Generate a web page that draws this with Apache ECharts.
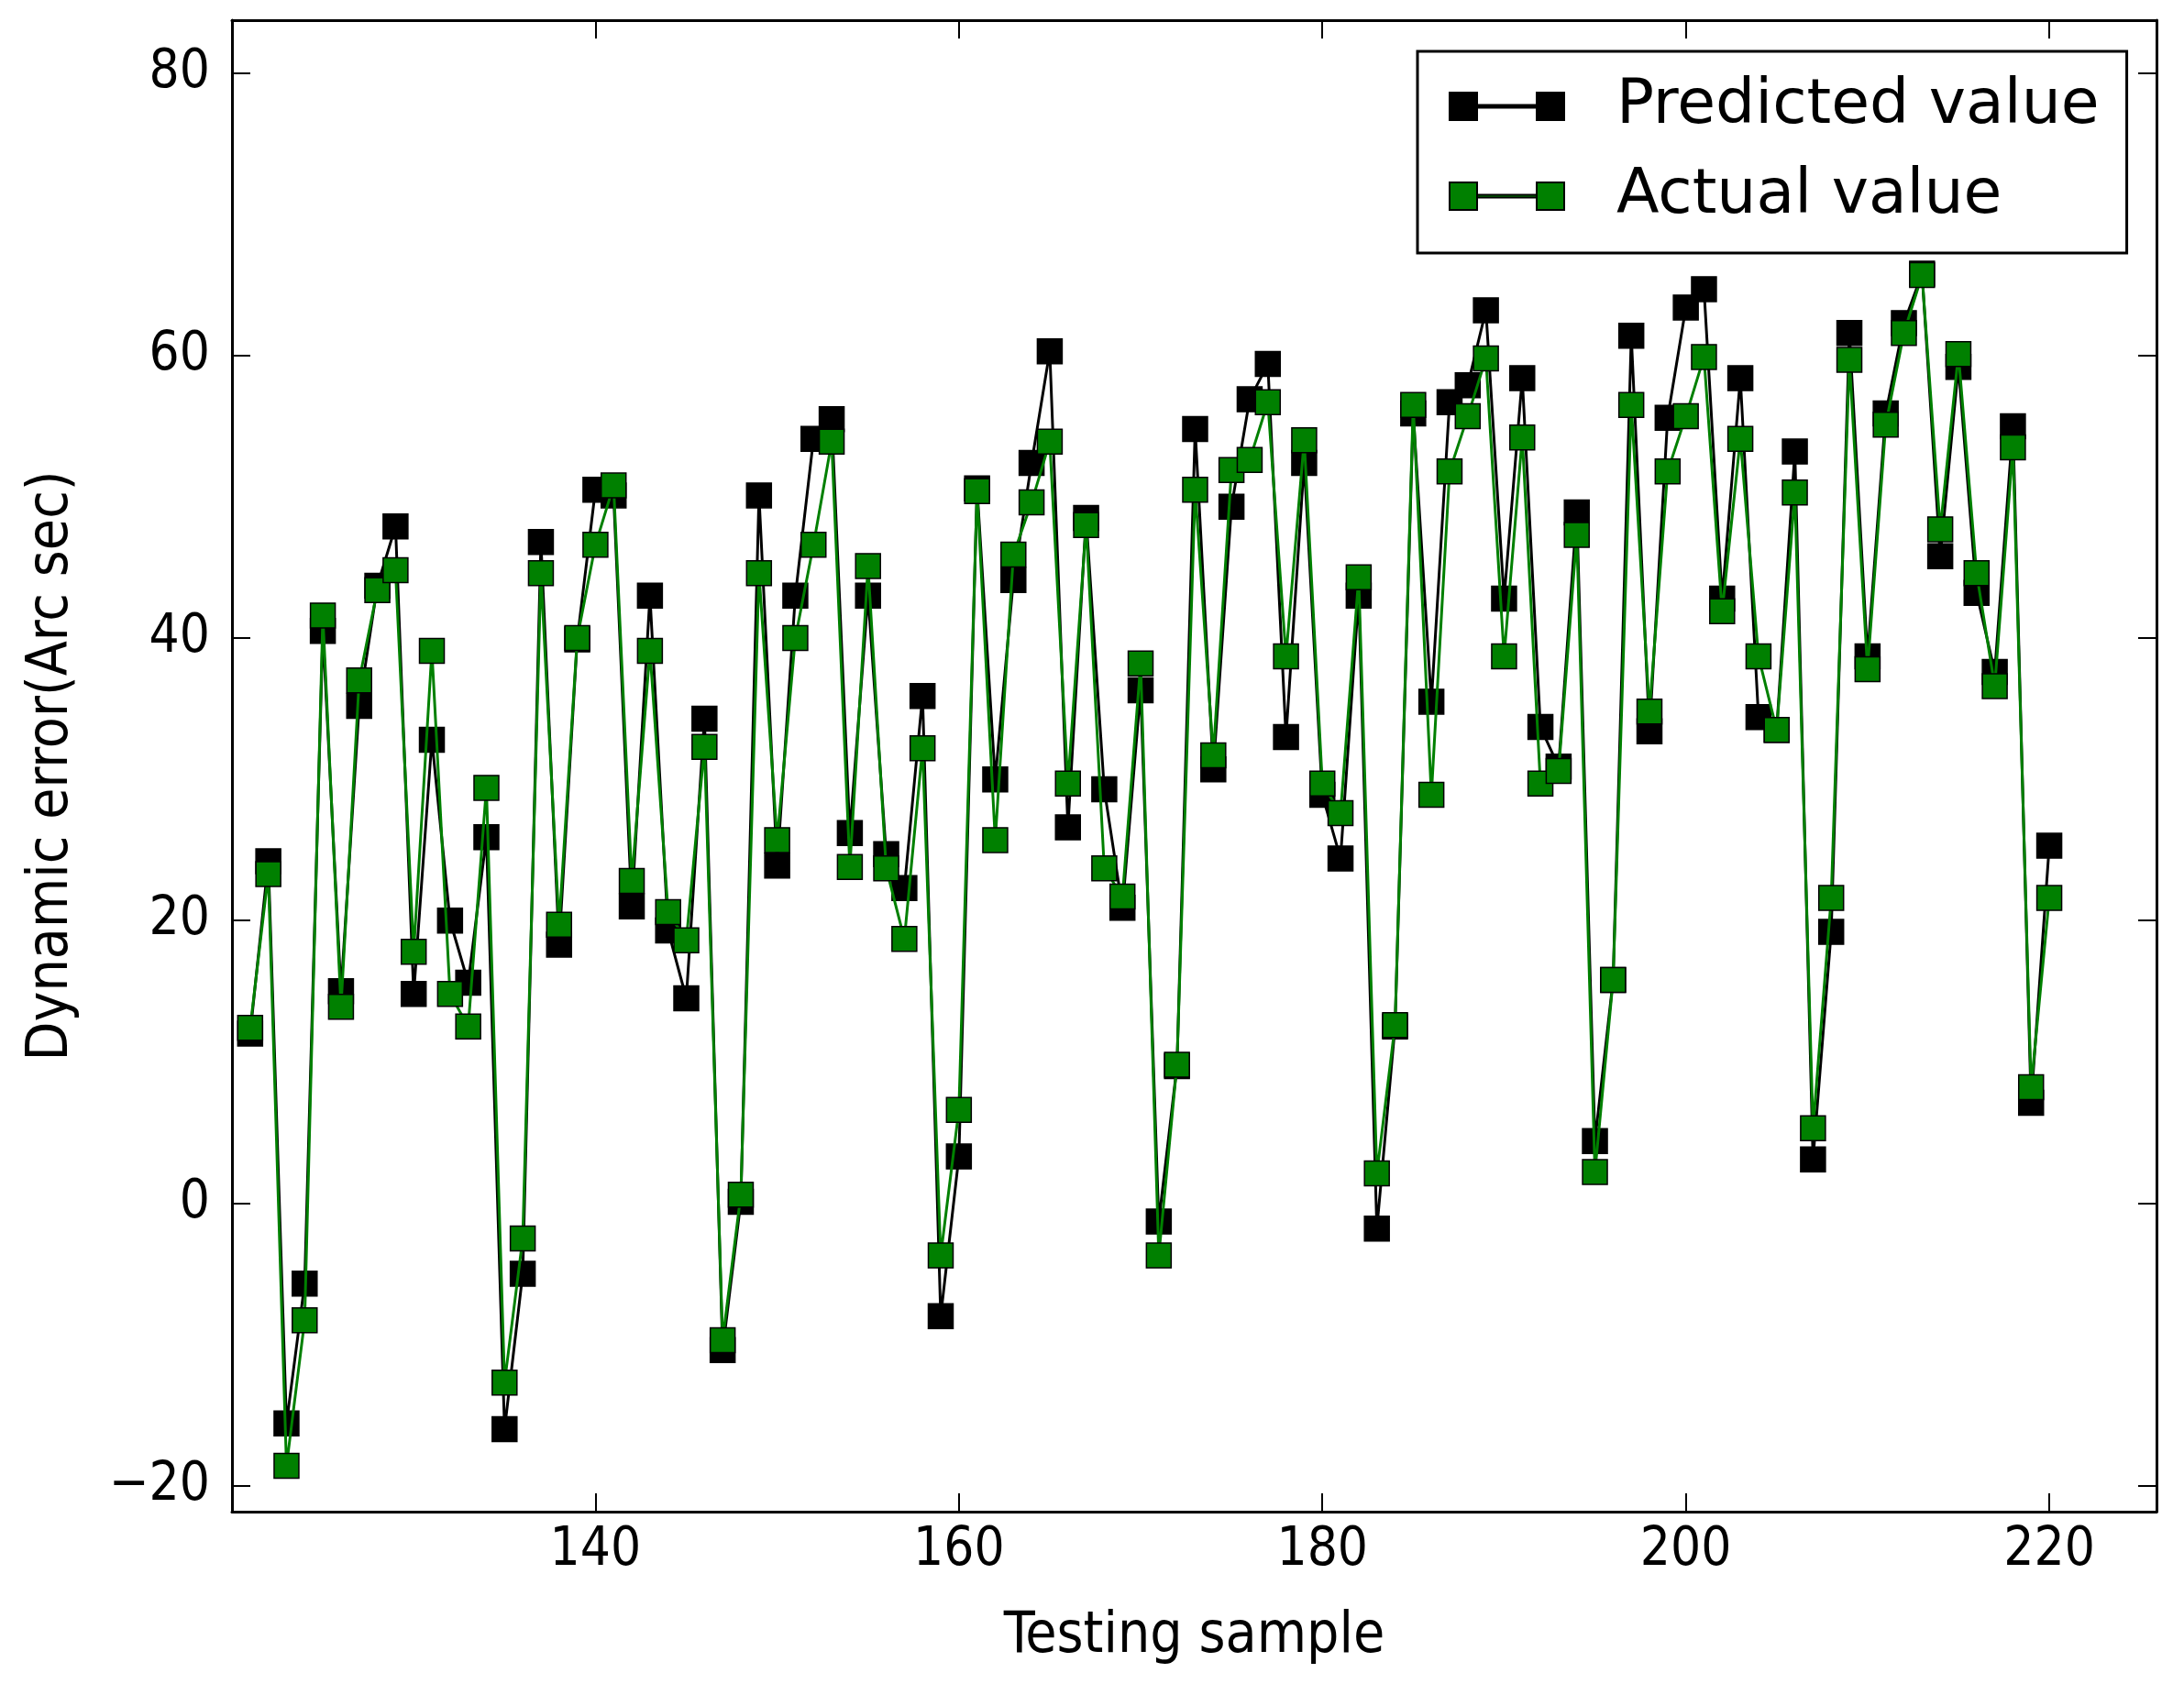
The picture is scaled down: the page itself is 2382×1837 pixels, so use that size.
<!DOCTYPE html>
<html>
<head>
<meta charset="utf-8">
<script src="https://cdn.jsdelivr.net/npm/echarts@6/dist/echarts.min.js"></script>
<style>
html,body{margin:0;padding:0;background:#fff;}
#chart{width:2382px;height:1837px;}
</style>
</head>
<body>
<div id="chart"></div>
<script>
var samples = [121,122,123,124,125,126,127,128,129,130,
  131,132,133,134,135,136,137,138,139,140,
  141,142,143,144,145,146,147,148,149,150,
  151,152,153,154,155,156,157,158,159,160,
  161,162,163,164,165,166,167,168,169,170,
  171,172,173,174,175,176,177,178,179,180,
  181,182,183,184,185,186,187,188,189,190,
  191,192,193,194,195,196,197,198,199,200,
  201,202,203,204,205,206,207,208,209,210,
  211,212,213,214,215,216,217,218,219,220];

var predicted = [12, 24.2, -15.6, -5.7, 40.5, 15, 35.2, 43.7, 47.9, 14.8,
  32.8, 20, 15.6, 25.9, -16, -5, 46.8, 18.3, 39.9, 50.5,
  50.1, 21, 43, 19.3, 14.5, 34.3, -10.4, 0.1, 50.1, 23.9,
  43, 54.1, 55.5, 26.2, 43, 24.7, 22.3, 35.9, -8, 3.3,
  50.6, 30, 44.1, 52.4, 60.3, 26.6, 48.5, 29.3, 20.9, 36.3,
  -1.3, 9.7, 54.8, 30.7, 49.3, 56.9, 59.4, 33, 52.4, 28.9,
  24.4, 43, -1.8, 12.5, 55.9, 35.5, 56.7, 57.9, 63.2, 42.8,
  58.4, 33.7, 30.9, 48.9, 4.4, 15.8, 61.4, 33.4, 55.6, 63.4,
  64.7, 42.8, 58.4, 34.4, 33.5, 53.2, 3.1, 19.2, 61.6, 38.7,
  55.9, 62.3, 65.8, 45.8, 59.2, 43.2, 37.6, 55, 7.1, 25.3];

var actual = [12.4, 23.3, -18.6, -8.3, 41.6, 13.9, 37, 43.4, 44.8, 17.8,
  39.1, 14.8, 12.5, 29.4, -12.7, -2.5, 44.6, 19.7, 40, 46.6,
  50.8, 22.8, 39.1, 20.6, 18.6, 32.3, -9.7, 0.6, 44.6, 25.7,
  40, 46.6, 53.9, 23.8, 45.1, 23.7, 18.7, 32.2, -3.7, 6.6,
  50.4, 25.7, 45.9, 49.6, 53.9, 29.7, 48, 23.7, 21.7, 38.2,
  -3.7, 9.8, 50.5, 31.7, 51.9, 52.6, 56.7, 38.7, 54, 29.7,
  27.6, 44.3, 2.1, 12.6, 56.5, 28.9, 51.8, 55.7, 59.8, 38.7,
  54.2, 29.7, 30.6, 47.3, 2.2, 15.8, 56.5, 34.8, 51.8, 55.7,
  59.9, 41.9, 54.1, 38.7, 33.5, 50.3, 5.3, 21.6, 59.7, 37.8,
  55.1, 61.6, 65.7, 47.7, 60.1, 44.6, 36.6, 53.5, 8.2, 21.6];

var xTicks = [140, 160, 180, 200, 220];
var yTicks = [-20, 0, 20, 40, 60, 80];
var seriesNames = ['Predicted value', 'Actual value'];

function pairs(vals) {
  return samples.map(function (s, i) { return [s, vals[i]]; });
}

var FONT = '"DejaVu Sans Condensed", "DejaVu Sans", sans-serif';
var XMIN = 120, XMAX = 225.9, YMIN = -21.84, YMAX = 83.74;

function axisBase(extra) {
  var o = {
    type: 'value',
    axisLine: { show: true, onZero: false, lineStyle: { color: '#000', width: 3 } },
    splitLine: { show: false }
  };
  for (var k in extra) o[k] = extra[k];
  return o;
}

function minusFmt(v) { return String(v).replace('-', '\u2212'); }

var chart = echarts.init(document.getElementById('chart'), null, { renderer: 'canvas' });
var legendIcon = 'path://M0,0H30V30H0Z M30,13.5H95V16.5H30Z M95,0H125V30H95Z';

chart.setOption({
  animation: false,
  backgroundColor: '#fff',
  grid: { left: 253, top: 22, right: 30, bottom: 188, show: false },
  xAxis: [
    axisBase({
      min: XMIN, max: XMAX, position: 'bottom',
      name: 'Testing sample', nameLocation: 'middle', nameGap: 106,
      nameTextStyle: { fontFamily: FONT, fontSize: 62, color: '#000' },
      axisTick: { show: true, inside: true, length: 20, lineStyle: { color: '#000', width: 2 }, customValues: xTicks },
      axisLabel: { show: true, margin: 14, fontFamily: FONT, fontSize: 58, color: '#000', customValues: xTicks }
    }),
    axisBase({
      min: XMIN, max: XMAX, position: 'top',
      axisTick: { show: true, inside: true, length: 20, lineStyle: { color: '#000', width: 2 }, customValues: xTicks },
      axisLabel: { show: false }
    })
  ],
  yAxis: [
    axisBase({
      min: YMIN, max: YMAX, position: 'left',
      name: 'Dynamic error(Arc sec)', nameLocation: 'middle', nameGap: 165,
      nameTextStyle: { fontFamily: FONT, fontSize: 62, color: '#000' },
      axisTick: { show: true, inside: true, length: 20, lineStyle: { color: '#000', width: 2 }, customValues: yTicks },
      axisLabel: { show: true, margin: 24, fontFamily: FONT, fontSize: 58, color: '#000', customValues: yTicks, formatter: minusFmt }
    }),
    axisBase({
      min: YMIN, max: YMAX, position: 'right',
      axisTick: { show: true, inside: true, length: 20, lineStyle: { color: '#000', width: 2 }, customValues: yTicks },
      axisLabel: { show: false }
    })
  ],
  legend: {
    orient: 'vertical',
    left: 1546, top: 56,
    padding: [26, 30, 28, 34],
    itemGap: 30,
    itemWidth: 125, itemHeight: 30,
    icon: legendIcon,
    backgroundColor: '#fff',
    borderColor: '#000', borderWidth: 3, borderRadius: 0,
    data: seriesNames,
    textStyle: { fontFamily: '"DejaVu Sans", sans-serif', fontSize: 68, color: '#000', padding: [0, 0, 0, 52] }
  },
  series: [
    {
      name: seriesNames[0], type: 'line', data: pairs(predicted),
      symbol: 'rect', symbolSize: 27,
      lineStyle: { color: '#000', width: 3 },
      itemStyle: { color: '#000', borderColor: '#000', borderWidth: 1.5 },
      z: 2
    },
    {
      name: seriesNames[1], type: 'line', data: pairs(actual),
      symbol: 'rect', symbolSize: 27,
      lineStyle: { color: '#008000', width: 3 },
      itemStyle: { color: '#008000', borderColor: '#000', borderWidth: 1.5 },
      z: 3
    }
  ]
});
</script>
</body>
</html>
